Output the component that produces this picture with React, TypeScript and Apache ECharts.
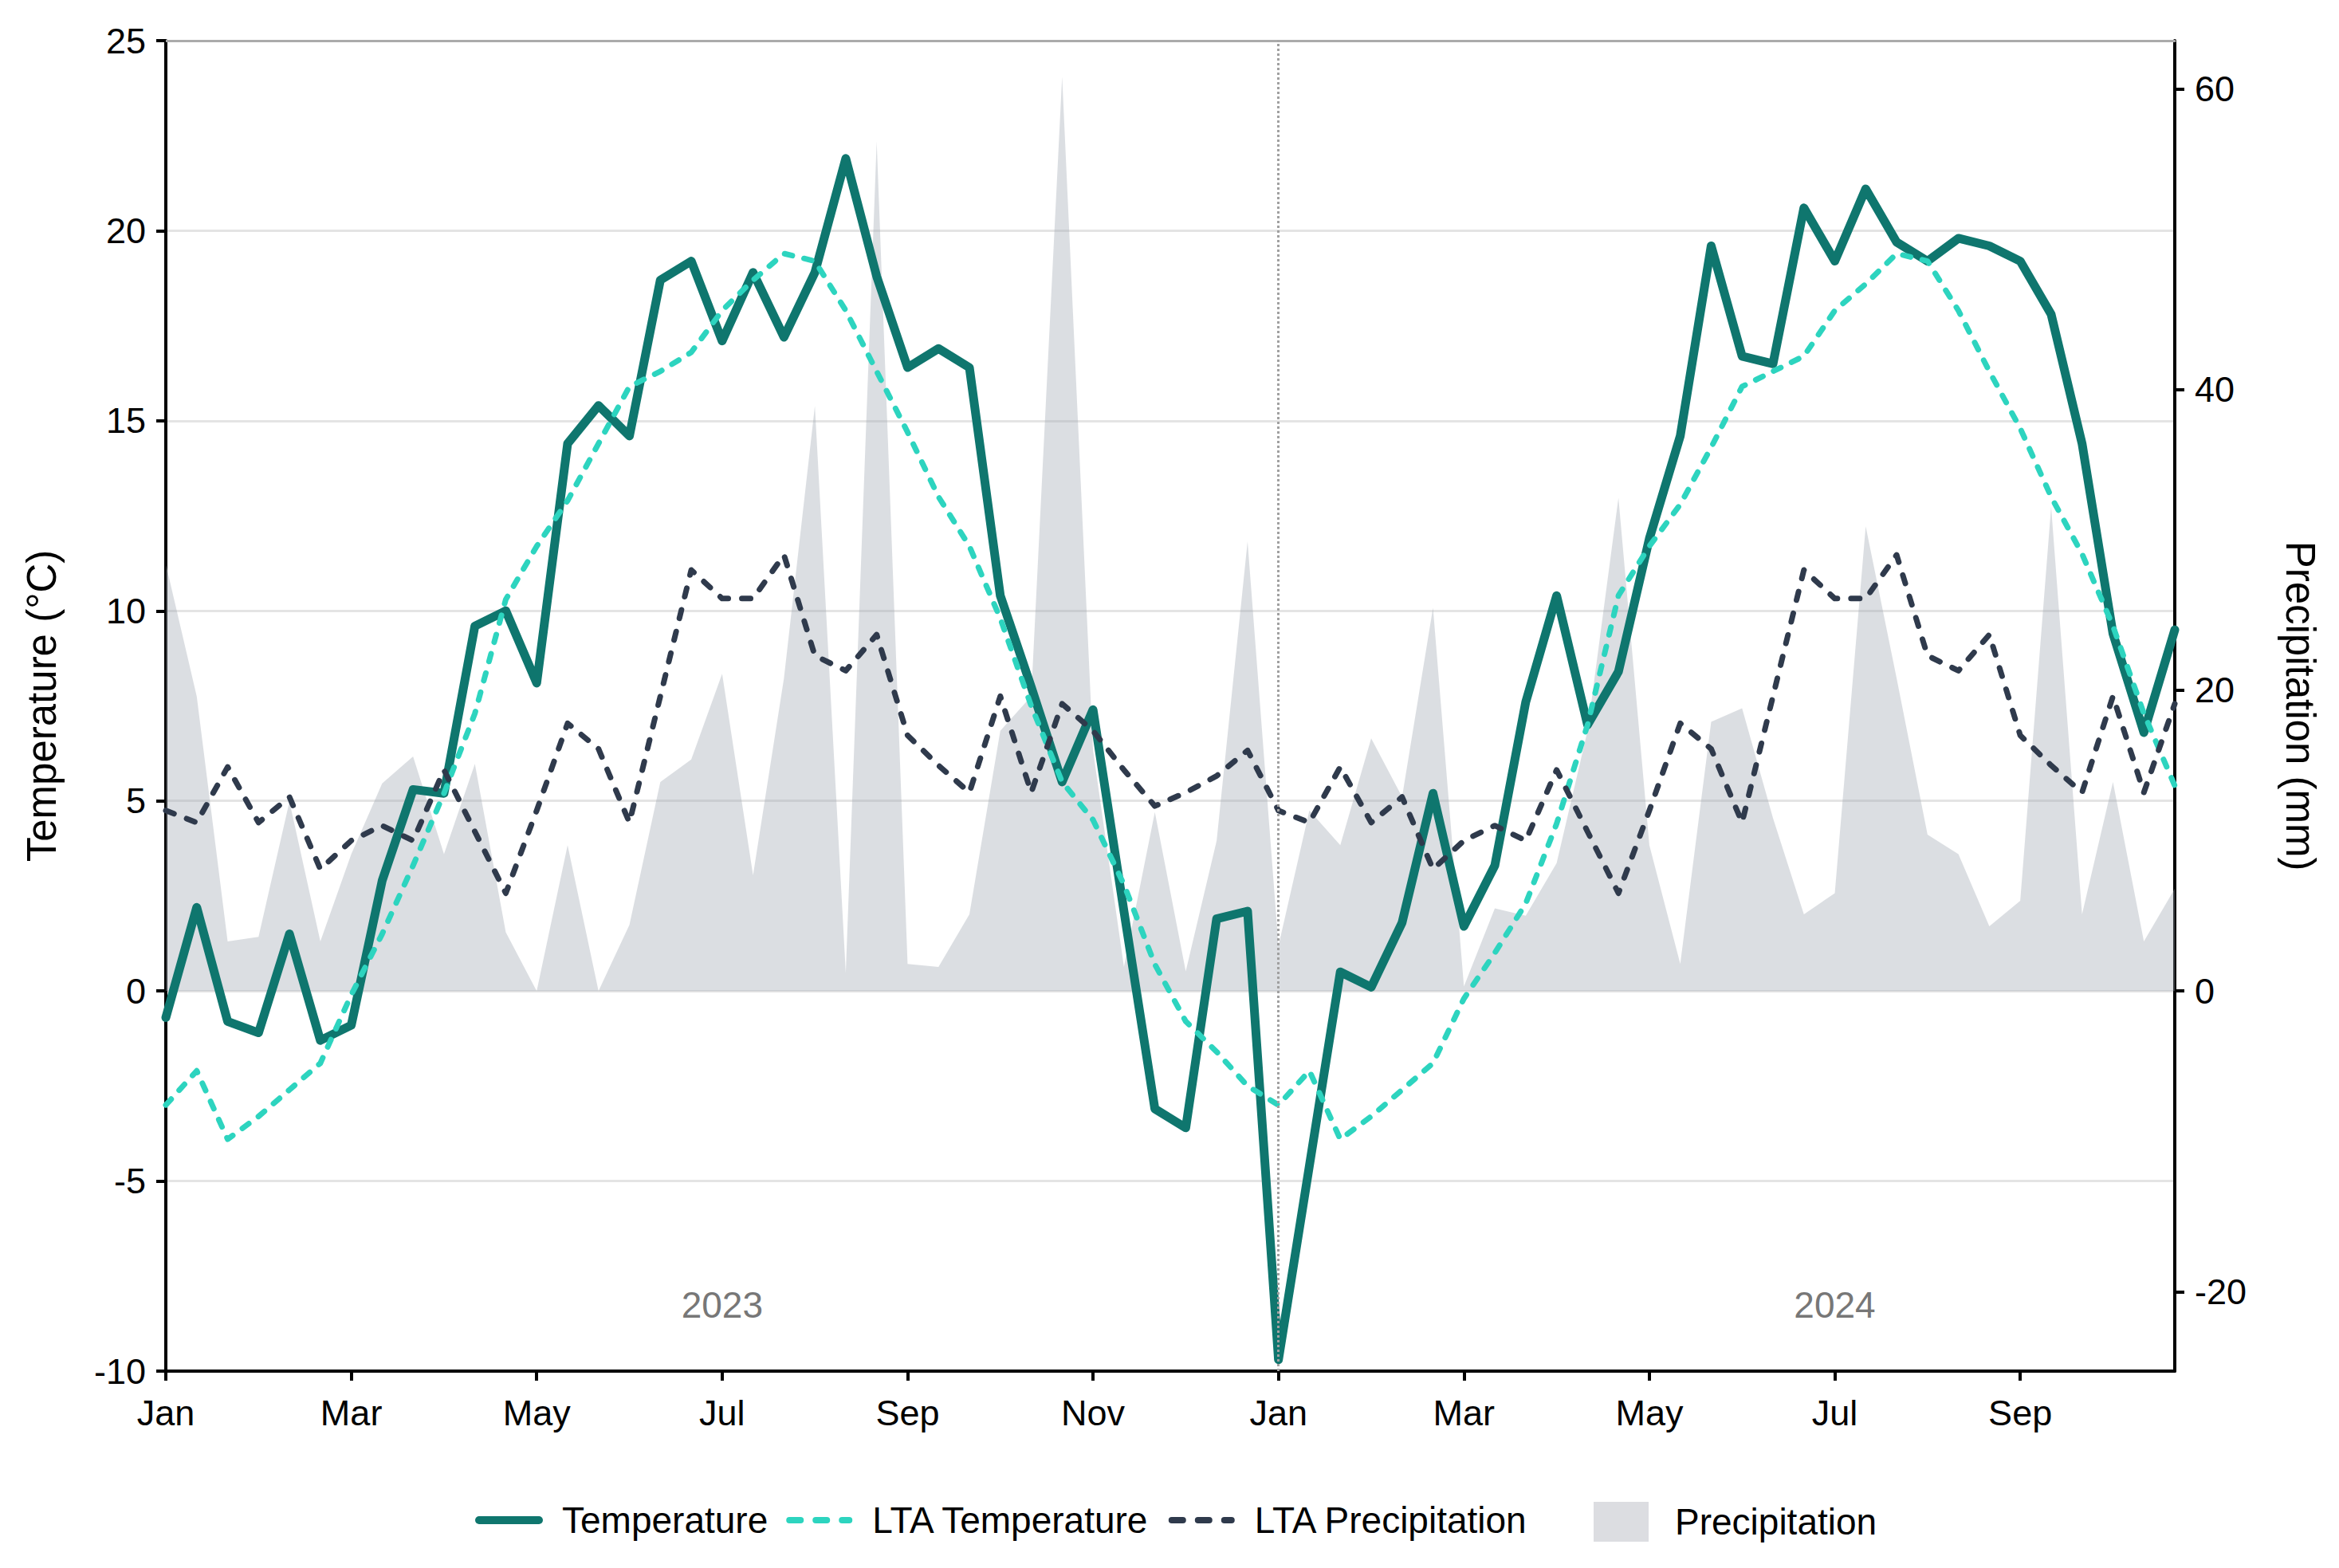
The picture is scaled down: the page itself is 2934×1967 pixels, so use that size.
import React, { useEffect, useRef } from "react";
import * as echarts from "echarts";

const FONT = "'Liberation Sans', Arial, Helvetica, sans-serif";

// Dekadal periods (start date of each 10-day period)
const categories: string[] = [
  "2023-01-01", "2023-01-11", "2023-01-21", "2023-02-01", "2023-02-11", "2023-02-21",
  "2023-03-01", "2023-03-11", "2023-03-21", "2023-04-01", "2023-04-11", "2023-04-21",
  "2023-05-01", "2023-05-11", "2023-05-21", "2023-06-01", "2023-06-11", "2023-06-21",
  "2023-07-01", "2023-07-11", "2023-07-21", "2023-08-01", "2023-08-11", "2023-08-21",
  "2023-09-01", "2023-09-11", "2023-09-21", "2023-10-01", "2023-10-11", "2023-10-21",
  "2023-11-01", "2023-11-11", "2023-11-21", "2023-12-01", "2023-12-11", "2023-12-21",
  "2024-01-01", "2024-01-11", "2024-01-21", "2024-02-01", "2024-02-11", "2024-02-21",
  "2024-03-01", "2024-03-11", "2024-03-21", "2024-04-01", "2024-04-11", "2024-04-21",
  "2024-05-01", "2024-05-11", "2024-05-21", "2024-06-01", "2024-06-11", "2024-06-21",
  "2024-07-01", "2024-07-11", "2024-07-21", "2024-08-01", "2024-08-11", "2024-08-21",
  "2024-09-01", "2024-09-11", "2024-09-21", "2024-10-01", "2024-10-11", "2024-10-21",
];

const monthNames: string[] = ["Jan", "Feb", "Mar", "Apr", "May", "Jun", "Jul", "Aug", "Sep", "Oct", "Nov", "Dec"];

const temperature: number[] = [
  -0.7, 2.2, -0.8, -1.1, 1.5, -1.3, -0.9, 2.9, 5.3, 5.2,
  9.6, 10.0, 8.1, 14.4, 15.4, 14.6, 18.7, 19.2, 17.1, 18.9,
  17.2, 18.9, 21.9, 18.8, 16.4, 16.9, 16.4, 10.4, 8.0, 5.5,
  7.4, 2.1, -3.1, -3.6, 1.9, 2.1, -9.7, -4.6, 0.5, 0.1,
  1.8, 5.2, 1.7, 3.3, 7.6, 10.4, 7.0, 8.4, 11.9, 14.6,
  19.6, 16.7, 16.5, 20.6, 19.2, 21.1, 19.7, 19.2, 19.8, 19.6,
  19.2, 17.8, 14.4, 9.4, 6.8, 9.5,
];

const ltaTemperature: number[] = [
  -3.0, -2.1, -3.9, -3.3, -2.6, -1.9, -0.1, 1.5, 3.3, 5.2,
  7.3, 10.3, 11.7, 12.9, 14.4, 15.9, 16.3, 16.8, 17.9, 18.7,
  19.4, 19.2, 17.9, 16.3, 14.7, 13.0, 11.7, 9.8, 7.5, 5.5,
  4.5, 2.8, 0.7, -0.8, -1.6, -2.5,
  -3.0, -2.1, -3.9, -3.3, -2.6, -1.9, -0.2, 1.0, 2.3, 4.4,
  7.0, 10.4, 11.7, 12.8, 14.3, 15.9, 16.3, 16.7, 17.9, 18.6,
  19.4, 19.2, 17.9, 16.3, 14.8, 13.0, 11.5, 9.6, 7.3, 5.4,
];

const ltaPrecipitation: number[] = [
  12.0, 11.2, 14.9, 11.2, 12.9, 8.1, 10.0, 11.0, 10.0, 14.7,
  10.6, 6.5, 12.0, 17.8, 16.1, 11.2, 19.6, 28.0, 26.1, 26.1,
  29.0, 22.3, 21.3, 23.7, 17.0, 15.0, 13.2, 19.6, 13.2, 19.1,
  17.3, 14.7, 12.3, 13.2, 14.3, 16.0,
  12.0, 11.2, 14.9, 11.2, 12.9, 8.1, 10.0, 11.0, 10.0, 14.7,
  10.6, 6.5, 12.0, 17.8, 16.1, 11.2, 19.6, 28.0, 26.1, 26.1,
  29.0, 22.3, 21.3, 23.7, 17.0, 15.0, 13.2, 19.6, 13.2, 19.1,
];

const precipitation: number[] = [
  28.4, 19.6, 3.3, 3.6, 12.6, 3.3, 9.1, 13.8, 15.6, 9.1,
  15.1, 3.9, 0.0, 9.7, 0.0, 4.4, 13.9, 15.4, 21.1, 7.7,
  20.8, 38.9, 1.2, 56.5, 1.8, 1.6, 5.1, 17.3, 19.6, 60.8,
  16.0, 1.6, 11.9, 1.3, 10.0, 29.9, 3.0, 12.0, 9.7, 16.8,
  12.9, 25.5, 0.3, 5.5, 5.0, 8.5, 17.3, 32.8, 9.7, 1.8,
  17.9, 18.8, 11.5, 5.1, 6.5, 30.9, 20.8, 10.4, 9.1, 4.3,
  6.0, 32.2, 5.1, 13.9, 3.3, 6.8,
];

const rightTickValues: number[] = [-20, 0, 20, 40, 60];
const yearLabels = [
  { name: "2023", at: "2023-07-01", y: -8.25 },
  { name: "2024", at: "2024-07-01", y: -8.25 },
];
const yearBoundary = "2024-01-01";

const C_TEMP = "#0f766e";
const C_LTA_T = "#2dd4bf";
const C_LTA_P = "#2f3a4c";
const C_PREC = "rgba(156,163,175,0.36)";

export default function App() {
  const ref = useRef<HTMLDivElement>(null);

  useEffect(() => {
    document.body.style.margin = "0";
    document.body.style.overflow = "hidden";
    const chart = echarts.init(ref.current!, null, { renderer: "svg" });

    const axisLine = { show: true, onZero: false, lineStyle: { color: "#000", width: 4 } };
    const axisTick = { show: true, length: 12, lineStyle: { color: "#000", width: 4 } };
    const legendText = { fontSize: 46, color: "#000", fontFamily: FONT, padding: [0, 0, 0, 24] };

    chart.setOption({
      animation: false,
      backgroundColor: "#ffffff",
      textStyle: { fontFamily: FONT },
      grid: { left: 208, right: 206, top: 51, bottom: 247, containLabel: false },
      legend: [
        {
          left: 591,
          top: 1879,
          itemWidth: 75,
          itemHeight: 50,
          itemGap: 23,
          itemStyle: { opacity: 0 },
          textStyle: legendText,
          data: [
            {
              name: "Temperature",
              lineStyle: { color: C_TEMP, width: 10, type: "solid", cap: "round" },
            },
            {
              name: "LTA Temperature",
              lineStyle: { color: C_LTA_T, width: 8, type: [14, 19], cap: "round" },
            },
            {
              name: "LTA Precipitation",
              lineStyle: { color: C_LTA_P, width: 8, type: [14, 19], cap: "round" },
            },
          ],
        },
        {
          left: 1994,
          top: 1879,
          itemWidth: 69,
          itemHeight: 50,
          textStyle: { ...legendText, padding: [0, 0, 0, 28] },
          data: [{ name: "Precipitation", icon: "rect", itemStyle: { color: "#dcdde1" } }],
        },
      ],
      xAxis: [
        {
          type: "category",
          data: categories,
          boundaryGap: false,
          axisLine,
          axisTick: { ...axisTick, interval: 5 },
          axisLabel: {
            interval: 5,
            margin: 30,
            fontSize: 45,
            color: "#000",
            fontFamily: FONT,
            formatter: (v: string) => monthNames[parseInt(v.slice(5, 7), 10) - 1],
          },
          splitLine: { show: false },
        },
        {
          type: "category",
          data: categories,
          boundaryGap: false,
          position: "top",
          axisLine: { show: true, onZero: false, lineStyle: { color: "#ababab", width: 3 } },
          axisTick: { show: false },
          axisLabel: { show: false },
          splitLine: { show: false },
        },
      ],
      yAxis: [
        {
          type: "value",
          min: -10,
          max: 25,
          interval: 5,
          name: "Temperature (°C)",
          nameLocation: "middle",
          nameGap: 130,
          nameTextStyle: { fontSize: 51, color: "#000", fontFamily: FONT },
          axisLine,
          axisTick,
          axisLabel: { fontSize: 45, color: "#000", margin: 25, fontFamily: FONT },
          splitLine: { show: true, lineStyle: { color: "#e4e4e4", width: 3 } },
        },
        {
          type: "value",
          min: -25.28,
          max: 63.2,
          position: "right",
          name: "Precipitation (mm)",
          nameLocation: "middle",
          nameRotate: -90,
          nameGap: 132,
          nameTextStyle: { fontSize: 51, color: "#000", fontFamily: FONT },
          axisLine,
          axisTick: { ...axisTick, customValues: rightTickValues },
          axisLabel: { fontSize: 45, color: "#000", margin: 25, fontFamily: FONT, customValues: rightTickValues },
          splitLine: { show: false },
        },
      ],
      series: [
        {
          name: "Precipitation",
          type: "line",
          yAxisIndex: 1,
          data: precipitation,
          symbol: "none",
          lineStyle: { width: 0 },
          itemStyle: { color: C_PREC },
          areaStyle: { color: C_PREC, opacity: 1 },
          z: 1,
          markLine: {
            silent: true,
            symbol: "none",
            label: { show: false },
            lineStyle: { color: "#a0a0a0", type: "dotted", width: 3 },
            data: [{ xAxis: yearBoundary }],
          },
        },
        {
          name: "Temperature",
          type: "line",
          data: temperature,
          symbol: "none",
          itemStyle: { color: C_TEMP },
          lineStyle: { color: C_TEMP, width: 11, join: "round", cap: "round" },
          z: 3,
          markPoint: {
            symbol: "circle",
            symbolSize: 0,
            label: {
              show: true,
              position: "inside",
              color: "#777",
              fontSize: 46,
              fontFamily: FONT,
              formatter: (p: any) => p.name,
            },
            data: yearLabels.map((y) => ({ name: y.name, coord: [y.at, y.y] })),
          },
        },
        {
          name: "LTA Temperature",
          type: "line",
          data: ltaTemperature,
          symbol: "none",
          itemStyle: { color: C_LTA_T },
          lineStyle: { color: C_LTA_T, width: 7, type: [10, 15], cap: "round", join: "round" },
          z: 4,
        },
        {
          name: "LTA Precipitation",
          type: "line",
          yAxisIndex: 1,
          data: ltaPrecipitation,
          symbol: "none",
          itemStyle: { color: C_LTA_P },
          lineStyle: { color: C_LTA_P, width: 7, type: [11, 17], cap: "round", join: "round" },
          z: 4,
        },
      ],
    });

    return () => chart.dispose();
  }, []);

  return <div ref={ref} style={{ width: 2934, height: 1967 }} />;
}
